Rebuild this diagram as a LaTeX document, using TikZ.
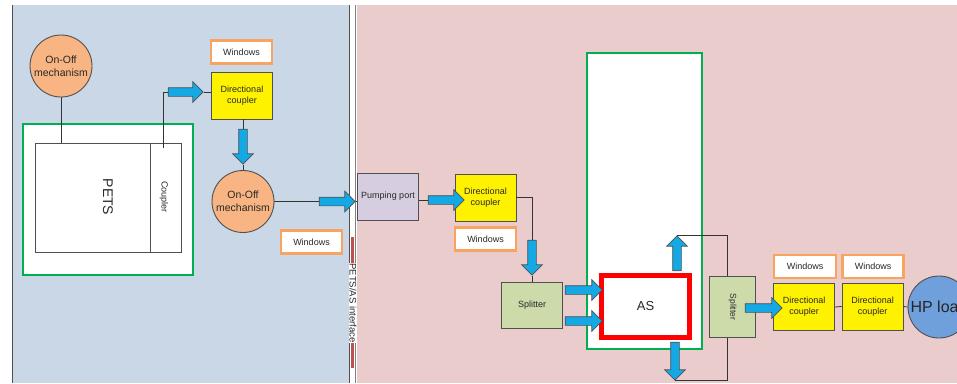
\documentclass[tikz,border=0pt]{standalone}
\usepackage{fontspec}
\setmainfont{Liberation Sans}
\usetikzlibrary{shapes.arrows}
\definecolor{bgblue}{RGB}{201,215,230}
\definecolor{bgpink}{RGB}{234,204,204}
\definecolor{peach}{RGB}{248,180,130}
\definecolor{sgreen}{RGB}{205,218,170}
\definecolor{plilac}{RGB}{214,205,224}
\definecolor{hpblue}{RGB}{111,160,220}
\definecolor{arblue}{RGB}{20,168,228}
\definecolor{wborder}{RGB}{248,164,96}
\definecolor{gframe}{RGB}{0,176,80}
\definecolor{ifred}{RGB}{192,80,77}
\definecolor{lgray}{RGB}{80,80,80}
\definecolor{txt}{RGB}{40,40,40}
\tikzstyle{bx}=[draw=lgray, line width=0.9pt, inner sep=1pt, align=center, text=txt, font=\fontsize{9}{11}\selectfont]
\tikzstyle{dc}=[bx, fill=yellow, minimum width=61pt, minimum height=47pt]
\tikzstyle{win}=[draw=wborder, line width=2.2pt, fill=white, text=txt, minimum width=61pt, minimum height=23pt, inner sep=0, font=\fontsize{9}{10}\selectfont]
\tikzstyle{onoff}=[circle, draw=lgray, line width=0.9pt, fill=peach, minimum size=62pt, inner sep=0, align=center, text=txt, font=\fontsize{10.5}{13}\selectfont]
\tikzstyle{barr}=[single arrow, draw=lgray, fill=arblue, line width=0.7pt, minimum width=20pt, single arrow head extend=6pt, inner xsep=0, inner ysep=4pt, minimum height=35pt]
\tikzstyle{ln}=[draw=black!80, line width=0.8pt]

\begin{document}
\begin{tikzpicture}[x=1pt, y=-1pt]
\useasboundingbox (0,0) rectangle (957,383);
\clip (0,0) rectangle (957,383);
%\draw[help lines,step=10] (0,0) grid (957,383);
\fill[bgblue] (12,5) rectangle (349,383);
\draw[lgray, line width=1pt] (12,5) -- (12,383);
\fill[bgpink] (357,5) rectangle (957,383);
\draw[lgray, line width=1.4pt] (349.5,5) -- (349.5,383);
\draw[black!50, line width=1.6pt] (355.5,5) -- (355.5,383);
\draw[ifred, line width=3pt] (352.5,237) -- (352.5,368);
\node at (353,303)[rotate=-90, fill=white, inner sep=0.6pt, text=txt, font=\fontsize{9.5}{10}\selectfont](iface){PETS/AS interface};
% PETS side
\node at (108,199.5)[draw=gframe, line width=2.5pt, fill=white, minimum width=170pt, minimum height=151pt](frm1){};
\node at (61,66)[onoff](on1){On-Off\\mechanism};
\node at (92.5,197.5)[bx, fill=white, minimum width=115pt, minimum height=109pt](pets){};
\node at (165.5,197.5)[bx, fill=white, minimum width=31pt, minimum height=109pt](cpl){};
\node at (108,197)[rotate=-90, text=txt, font=\fontsize{14}{16}\selectfont](petstxt){PETS};
\node at (164,197)[rotate=-90, text=txt, font=\fontsize{9}{10}\selectfont](cpltxt){Coupler};
\node at (241.5,52)[win](win1){Windows};
\node at (242,95.5)[dc](dc1){Directional\\coupler};
\node at (183.5,92)[barr](a1){};
\node at (243,144.5)[barr, rotate=-90](a2){};
\node at (243,201.5)[onoff](on2){On-Off\\mechanism};
\node at (335,201.5)[barr, minimum height=36pt](a3){};
\node at (311.5,242)[win](win2){Windows};
\coordinate (cplin) at (163,148);
\draw[ln] (on1.south) -- (on1.south |- pets.north);
\draw[ln] (cplin) |- (a1.tail);
\draw[ln] (a1.tip) -- (a1.tip -| dc1.west);
\draw[ln] (a2.tail |- dc1.south) -- (a2.tail);
\draw[ln] (a2.tip) -- (on2.north);
\draw[ln] (on2.east) -- (a3.tail);
% AS side
\node at (644.5,201)[draw=gframe, line width=2.5pt, fill=white, minimum width=115pt, minimum height=296pt](frm2){};
\node at (388,196.5)[bx, fill=plilac, minimum width=61pt, minimum height=47pt](pump){Pumping port};
\draw[ln] (a3.tip) -- (a3.tip -| pump.west);
\node at (485.5,197.5)[dc](dc2){Directional\\coupler};
\node at (485.5,239)[win](win3){Windows};
\node at (444,200)[barr, minimum height=36pt](a4){};
\node at (532,255.5)[barr, rotate=-90](a5){};
\node at (532,305.5)[bx, fill=sgreen, minimum width=61pt, minimum height=46pt](sp1){Splitter};
\node at (645.5,306.5)[draw=red, line width=5pt, fill=white, minimum width=88pt, minimum height=62pt, text=txt, font=\fontsize{13}{15}\selectfont](as){AS};
\node at (581.5,290)[barr, minimum height=37pt](a6){};
\node at (581.5,321)[barr, minimum height=37pt](a7){};
\node at (677,255.5)[barr, rotate=90](a8){};
\node at (675,359)[barr, rotate=-90, minimum height=38pt](a9){};
\node at (732.5,307)[bx, fill=sgreen, minimum width=46pt, minimum height=61pt](sp2){};
\node at (sp2)[rotate=-90, text=txt, font=\fontsize{8.5}{10}\selectfont](sp2txt){Splitter};
\coordinate (sx) at (727,0);
\draw[ln] (a4.tail -| pump.east) -- (a4.tail);
\draw[ln] (dc2.east) -| (a5.tail);
\draw[ln] (a5.tip) -- (sp1.north);
\draw[ln] (a8.tip) -| (sx |- sp2.north);
\draw[ln] (a9.tip) -| (sx |- sp2.south);
\node at (804,307)[dc](dc3){Directional\\coupler};
\node at (805,266.5)[win, minimum width=62pt](win4){Windows};
\node at (872.5,306.5)[dc](dc4){Directional\\coupler};
\node at (873,266.5)[win](win5){Windows};
\node at (939,307)[circle, draw=lgray, line width=0.9pt, fill=hpblue, minimum size=62pt, inner sep=0, text=black!85, font=\fontsize{16}{18}\selectfont](hp){HP load};
\node at (761.5,308)[barr, minimum height=37pt](a10){};
\draw[ln] (dc3.east) -- (dc4.west);
\draw[ln] (dc4.east) -- (hp.west);
\end{tikzpicture}
\end{document}
